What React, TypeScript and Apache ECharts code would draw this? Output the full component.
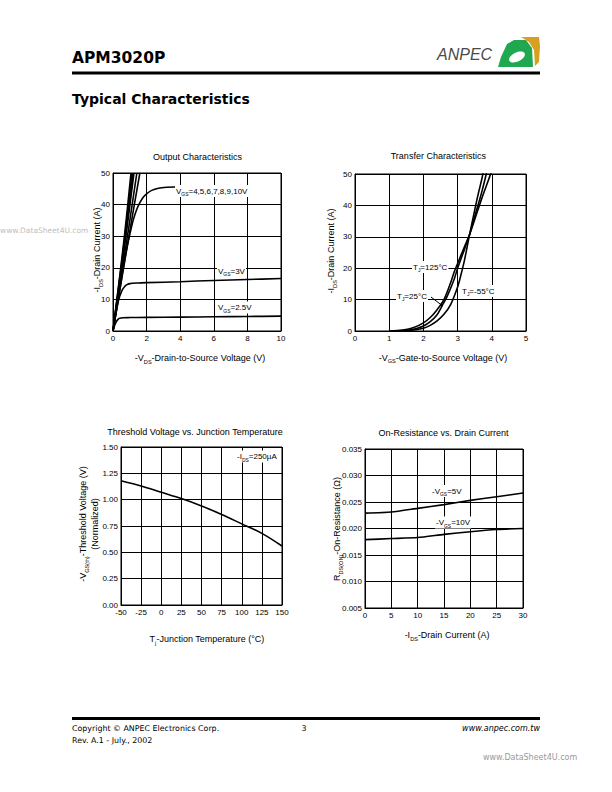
import React, { useEffect, useRef } from 'react';
import * as echarts from 'echarts';

const FONT = '"Liberation Sans", Arial, Helvetica, sans-serif';
const VFONT = '"DejaVu Sans", Verdana, sans-serif';

// ---- Output Characteristics (-VDS [V], -IDS [A]) ----
const outVgs10 = [[0, 0], [0.23, 10], [0.46, 20], [0.68, 30], [0.88, 40], [1.07, 50]];
const outVgs9 = [[0, 0], [0.24, 10], [0.48, 20], [0.71, 30], [0.93, 40], [1.13, 50]];
const outVgs8 = [[0, 0], [0.25, 10], [0.5, 20], [0.74, 30], [0.97, 40], [1.19, 50]];
const outVgs7 = [[0, 0], [0.26, 10], [0.52, 20], [0.77, 30], [1.01, 40], [1.25, 50]];
const outVgs6 = [[0, 0], [0.28, 10], [0.57, 20], [0.86, 30], [1.14, 40], [1.42, 50]];
const outVgs5 = [[0, 0], [0.31, 10], [0.63, 20], [0.95, 30], [1.27, 40], [1.6, 50]];
const outVgs4 = [[0, 0], [0.3, 9.5], [0.55, 18], [0.8, 25.5], [1.0, 30.5], [1.2, 35], [1.4, 38.3], [1.6, 40.6], [1.8, 42.3], [2.0, 43.4], [2.3, 44.5], [2.7, 45.2], [3.2, 45.5], [3.8, 45.6], [4.5, 45.7]];
const outVgs3 = [[0, 0], [0.1, 3.2], [0.2, 6.3], [0.3, 9], [0.4, 11], [0.5, 12.4], [0.6, 13.4], [0.7, 14.1], [0.8, 14.6], [1.0, 15], [1.5, 15.2], [2, 15.3], [4, 15.6], [6, 16], [8, 16.3], [10, 16.6]];
const outVgs25 = [[0, 0], [0.1, 1.8], [0.2, 3], [0.3, 3.7], [0.4, 4], [0.6, 4.2], [1, 4.25], [2, 4.3], [4, 4.4], [6, 4.5], [8, 4.6], [10, 4.7]];

// ---- Transfer Characteristics (-VGS [V], -IDS [A]) ----
const trTm55 = [[1.2, 0], [1.6, 0.2], [2.0, 0.9], [2.2, 1.8], [2.4, 3.2], [2.6, 5.3], [2.8, 8.5], [3.0, 14], [3.1, 18], [3.2, 22.5], [3.35, 30.7], [3.5, 38.5], [3.6, 43.5], [3.7, 48], [3.75, 50.5]];
const trT25 = [[1.1, 0], [1.5, 0.2], [1.8, 0.8], [2.0, 1.6], [2.2, 3], [2.4, 5.2], [2.55, 8.1], [2.7, 11.2], [2.9, 16.5], [3.0, 20], [3.2, 26], [3.35, 30.7], [3.5, 36.5], [3.7, 44], [3.85, 50.5]];
const trT125 = [[1.0, 0], [1.4, 0.3], [1.7, 1.0], [2.0, 2.6], [2.2, 4.3], [2.4, 6.8], [2.6, 10], [2.8, 15.5], [2.9, 18.8], [3.0, 21.5], [3.2, 26.8], [3.35, 30.7], [3.5, 35.5], [3.7, 42], [3.9, 48], [3.98, 50.5]];

// ---- Threshold voltage vs junction temperature ----
const tjC = [-50, -25, 0, 25, 50, 75, 100, 125, 150];
const vthNorm = [1.18, 1.13, 1.07, 1.01, 0.94, 0.86, 0.77, 0.68, 0.56];

// ---- On-resistance vs drain current ----
const idsA = [0, 5, 10, 15, 20, 25, 30];
const rdsVgs5 = [0.0229, 0.0231, 0.0238, 0.0245, 0.0253, 0.026, 0.0267];
const rdsVgs10 = [0.0179, 0.0181, 0.0183, 0.0189, 0.0194, 0.0198, 0.02];

const zip = (xs: number[], ys: number[]) => xs.map((x, i) => [x, ys[i]]);

function subRich(fs: number) {
  return {
    s: { fontSize: fs * 0.62, lineHeight: fs * 0.62, verticalAlign: 'bottom', fontFamily: FONT, fill: '#000' },
  };
}

function txt(x: number, y: number, text: string, o: any = {}) {
  const fs = o.fs ?? 9;
  return {
    type: 'text',
    x,
    y,
    rotation: o.rot ?? 0,
    silent: true,
    z: 100,
    style: {
      text,
      fontSize: fs,
      fontFamily: o.family ?? FONT,
      fontWeight: o.weight ?? 'normal',
      fontStyle: o.italic ? 'italic' : 'normal',
      fill: o.color ?? '#000',
      align: o.align ?? 'center',
      verticalAlign: 'middle',
      lineHeight: fs + 4,
      rich: subRich(fs),
      backgroundColor: o.bg,
      padding: o.bg ? [0, 1, 0, 1] : 0,
    },
  };
}

function axis(gridIndex: number, min: number, max: number, interval: number, fmt?: (v: number) => string) {
  return {
    type: 'value',
    gridIndex,
    min,
    max,
    interval,
    axisLine: { show: true, onZero: false, lineStyle: { color: '#000', width: 1 } },
    axisTick: { show: false },
    splitLine: { show: true, lineStyle: { color: '#000', width: 1 } },
    axisLabel: { fontSize: 8, color: '#000', fontFamily: FONT, margin: 3, formatter: fmt },
  };
}

function line(idx: number, data: number[][], smooth: boolean | number = false) {
  return {
    type: 'line',
    xAxisIndex: idx,
    yAxisIndex: idx,
    data,
    symbol: 'none',
    showSymbol: false,
    smooth,
    clip: true,
    lineStyle: { color: '#000', width: 1.6 },
    z: 10,
  };
}

export default function App() {
  const ref = useRef<HTMLDivElement>(null);
  useEffect(() => {
    if (!ref.current) return;
    const chart = echarts.init(ref.current, undefined, { renderer: 'svg' });
    const option: any = {
      animation: false,
      backgroundColor: '#fff',
      grid: [
        { left: 113, top: 173, width: 168, height: 158, show: true, borderColor: '#000', borderWidth: 1 },
        { left: 355, top: 174, width: 171, height: 157, show: true, borderColor: '#000', borderWidth: 1 },
        { left: 121, top: 447, width: 161, height: 158, show: true, borderColor: '#000', borderWidth: 1 },
        { left: 365, top: 449, width: 158, height: 159, show: true, borderColor: '#000', borderWidth: 1 },
      ],
      xAxis: [axis(0, 0, 10, 2), axis(1, 0, 5, 1), axis(2, -50, 150, 25), axis(3, 0, 30, 5)],
      yAxis: [
        axis(0, 0, 50, 10),
        axis(1, 0, 50, 10),
        axis(2, 0, 1.5, 0.25, (v: number) => v.toFixed(2)),
        axis(3, 0.005, 0.035, 0.005, (v: number) => v.toFixed(3)),
      ],
      series: [
        line(0, outVgs10),
        line(0, outVgs9),
        line(0, outVgs8),
        line(0, outVgs7),
        line(0, outVgs6),
        line(0, outVgs5),
        line(0, outVgs4, 0.3),
        line(0, outVgs3, 0.3),
        line(0, outVgs25, 0.3),
        line(1, trTm55, 0.3),
        line(1, trT25, 0.3),
        line(1, trT125, 0.3),
        line(2, zip(tjC, vthNorm), 0.3),
        line(3, zip(idsA, rdsVgs5), 0.2),
        line(3, zip(idsA, rdsVgs10), 0.2),
      ],
      graphic: [
        // header
        txt(72, 58, 'APM3020P', { fs: 15.5, family: VFONT, weight: 'bold', align: 'left' }),
        { type: 'rect', shape: { x: 72, y: 71.5, width: 468, height: 3 }, style: { fill: '#000' }, silent: true },
        txt(72, 99, 'Typical Characteristics', { fs: 14, family: VFONT, weight: 'bold', align: 'left' }),
        // logo
        txt(437, 54, 'ANPEC', { fs: 16, italic: true, color: '#4a4a4a', align: 'left' }),
        { type: 'polygon', shape: { points: [[507, 44], [514, 40], [526, 40], [532, 48], [533, 67], [498, 67], [501, 57]] }, style: { fill: '#1fa84f' }, silent: true },
        { type: 'polygon', shape: { points: [[521, 37], [539, 37], [540, 46], [539, 62], [535, 66], [534, 50], [529, 42]] }, style: { fill: '#d9a01f' }, silent: true },
        { type: 'ellipse', x: 517, y: 57, rotation: 0.45, shape: { cx: 0, cy: 0, rx: 8.5, ry: 4.5 }, style: { fill: '#fff' }, silent: true },
        // watermark
        txt(0, 230, 'www.DataSheet4U.com', { fs: 7.5, color: '#c0c0c0', align: 'left', family: VFONT }),

        // chart 1
        txt(197.5, 156.5, 'Output Characteristics'),
        txt(97, 250, '-I{s|DS}-Drain Current (A)', { rot: Math.PI / 2 }),
        txt(200, 358, '-V{s|DS}-Drain-to-Source Voltage (V)'),
        txt(175, 191, 'V{s|GS}=4,5,6,7,8,9,10V', { fs: 8, align: 'left', bg: '#fff' }),
        txt(217, 271, 'V{s|GS}=3V', { fs: 8, align: 'left', bg: '#fff' }),
        txt(217, 307.5, 'V{s|GS}=2.5V', { fs: 8, align: 'left', bg: '#fff' }),

        // chart 2
        txt(438.3, 156, 'Transfer Characteristics'),
        txt(331, 251, '-I{s|DS}-Drain Current (A)', { rot: Math.PI / 2 }),
        txt(443, 357.5, '-V{s|GS}-Gate-to-Source Voltage (V)'),
        txt(412, 267, 'T{s|J}=125°C', { fs: 8, align: 'left', bg: '#fff' }),
        txt(396, 296, 'T{s|J}=25°C', { fs: 8, align: 'left', bg: '#fff' }),
        txt(461, 291, 'T{s|J}=-55°C', { fs: 8, align: 'left', bg: '#fff' }),
        { type: 'polyline', shape: { points: [[431, 297], [441.5, 305]] }, style: { stroke: '#000', lineWidth: 1, fill: 'none' }, silent: true, z: 101 },
        { type: 'circle', shape: { cx: 441.5, cy: 305, r: 1.5 }, style: { fill: '#000' }, silent: true, z: 101 },

        // chart 3
        txt(195, 431.5, 'Threshold Voltage vs. Junction Temperature'),
        txt(83, 524, '-V{s|GS(th)}-Threshold Voltage (V)', { rot: Math.PI / 2 }),
        txt(95, 524, '(Normalized)', { rot: Math.PI / 2 }),
        txt(207, 639, 'T{s|j}-Junction Temperature (°C)'),
        txt(236, 456.5, '-I{s|DS}=250µA', { fs: 8, align: 'left', bg: '#fff' }),

        // chart 4
        txt(443.5, 433, 'On-Resistance vs. Drain Current'),
        txt(337, 529, 'R{s|DS(ON)}-On-Resistance (Ω)', { rot: Math.PI / 2 }),
        txt(447, 635, '-I{s|DS}-Drain Current (A)'),
        txt(431, 491, '-V{s|GS}=5V', { fs: 8, align: 'left', bg: '#fff' }),
        txt(435, 522.5, '-V{s|GS}=10V', { fs: 8, align: 'left', bg: '#fff' }),

        // footer
        { type: 'rect', shape: { x: 72, y: 717, width: 468, height: 3 }, style: { fill: '#000' }, silent: true },
        txt(72, 728, 'Copyright © ANPEC Electronics Corp.', { fs: 7.9, family: VFONT, align: 'left' }),
        txt(72, 740, 'Rev. A.1 - July., 2002', { fs: 7.9, family: VFONT, align: 'left' }),
        txt(304, 728, '3', { fs: 7.9, family: VFONT }),
        txt(540, 728, 'www.anpec.com.tw', { fs: 8, family: VFONT, italic: true, align: 'right' }),
        txt(483, 757, 'www.DataSheet4U.com', { fs: 8, family: VFONT, color: '#999', align: 'left' }),
      ],
    };
    chart.setOption(option);
    return () => chart.dispose();
  }, []);
  return (
    <div
      ref={ref}
      style={{ position: 'absolute', left: 0, top: 0, width: 612, height: 792, background: '#fff' }}
    />
  );
}
